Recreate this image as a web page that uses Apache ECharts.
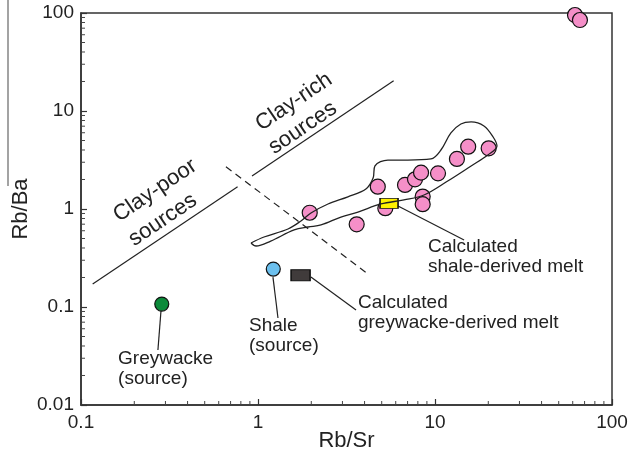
<!DOCTYPE html>
<html>
<head>
<meta charset="utf-8">
<script src="https://cdn.jsdelivr.net/npm/echarts@6/dist/echarts.min.js"></script>
<style>
  html, body { margin: 0; padding: 0; background: #fff; }
  #chart { width: 635px; height: 466px; }
</style>
</head>
<body>
<div id="chart"></div>
<script>
// samples, Rb/Sr vs Rb/Ba
const sampleRbSr = [61.8, 65.9, 20.1, 15.4, 13.3, 10.4, 6.77, 7.71, 8.34, 4.75, 8.52, 8.52, 5.24, 1.96, 3.61];
const sampleRbBa = [95.4, 84.8, 4.16, 4.32, 3.24, 2.31, 1.76, 2.01, 2.35, 1.69, 1.34, 1.12, 1.02, 0.916, 0.698];

// single reference points
const shaleMelt = [5.50, 1.14];
const greywackeMelt = [1.74, 0.211];
const shaleSource = [1.22, 0.244];
const greywackeSource = [0.286, 0.107];

// envelope around the samples (closed)
const envRbSr = [0.913, 1.081, 1.477, 1.749, 1.992, 2.486, 3.22, 4.07, 4.47, 4.58, 5.42, 7.03, 9.49, 10.8, 12.3, 14.0, 16.0, 18.9, 21.3, 22.4, 19.9, 16.0, 11.8, 8.67, 6.68, 4.95, 3.67, 2.94, 2.27, 1.92, 1.60, 1.18, 0.975, 0.913];
const envRbBa = [0.450, 0.518, 0.625, 0.755, 0.910, 1.125, 1.33, 1.60, 2.07, 2.75, 3.16, 3.16, 3.24, 4.00, 5.97, 7.36, 7.73, 7.03, 5.43, 4.39, 3.56, 2.75, 1.93, 1.39, 1.24, 1.125, 0.931, 0.828, 0.687, 0.655, 0.611, 0.471, 0.419, 0.450];

// boundary lines
const clayPoorLine = [[0.1164, 0.172], [0.767, 1.69]];
const clayRichLine = [[0.925, 2.17], [5.84, 20.4]];
const dividerLine = [[0.659, 2.70], [4.26, 0.212]];

// leader lines for the labels
const leaderLines = [
    [[6.18, 1.073], [14.6, 0.483]],
    [[1.99, 0.202], [3.58, 0.0931]],
    [[1.215, 0.202], [1.297, 0.0773]],
    [[0.283, 0.0910], [0.272, 0.0364]]
];

const labelTexts = ['Calculated\nshale-derived melt', 'Calculated\ngreywacke-derived melt', 'Shale\n(source)', 'Greywacke\n(source)'];
const labelAt = [[9.12, 0.521], [3.67, 0.139], [0.890, 0.0809], [0.162, 0.0378]];

const fieldTexts = ['Clay-poor', 'sources', 'Clay-rich', 'sources'];
const fieldAt = [[0.262, 1.54], [0.290, 0.773], [1.596, 12.4], [1.789, 6.71]];

// minor tick values
const xMinorTicks = [0.2, 0.3, 0.4, 0.5, 0.6, 0.7, 0.8, 0.9, 2, 3, 4, 5, 6, 7, 8, 9, 20, 30, 40, 50, 60, 70, 80, 90];
const yMinorTicks = [0.02, 0.03, 0.04, 0.05, 0.06, 0.07, 0.08, 0.09, 0.2, 0.3, 0.4, 0.5, 0.6, 0.7, 0.8, 0.9, 2, 3, 4, 5, 6, 7, 8, 9, 20, 30, 40, 50, 60, 70, 80, 90];

const FONT = "'Liberation Sans', Arial, sans-serif";
const INK = '#222';

const chart = echarts.init(document.getElementById('chart'));

const lineSeries = (data, dashed) => ({
    type: 'line',
    data: data,
    symbol: 'none',
    silent: true,
    z: 3,
    lineStyle: { color: INK, width: 1.2, type: dashed ? [7, 5] : 'solid' }
});

const series = [];

series.push(lineSeries(clayPoorLine));
series.push(lineSeries(clayRichLine));
series.push(lineSeries(dividerLine, true));
leaderLines.forEach(l => series.push(lineSeries(l)));

series.push({
    type: 'scatter',
    data: sampleRbSr.map((x, i) => [x, sampleRbBa[i]]),
    symbol: 'circle',
    symbolSize: 15,
    z: 4,
    itemStyle: { color: '#f58fc8', borderColor: '#111', borderWidth: 1.2, opacity: 1 }
});
series.push({
    type: 'scatter',
    data: [shaleMelt],
    symbol: 'rect',
    symbolSize: [18, 10],
    z: 5,
    itemStyle: { color: '#fff200', borderColor: '#111', borderWidth: 1.2, opacity: 1 }
});
series.push({
    type: 'scatter',
    data: [greywackeMelt],
    symbol: 'rect',
    symbolSize: [19, 11],
    z: 5,
    itemStyle: { color: '#403b3b', borderColor: '#111', borderWidth: 1.2, opacity: 1 }
});
series.push({
    type: 'scatter',
    data: [shaleSource],
    symbolSize: 14,
    z: 5,
    itemStyle: { color: '#6cc0ee', borderColor: '#111', borderWidth: 1.2, opacity: 1 }
});
series.push({
    type: 'scatter',
    data: [greywackeSource],
    symbolSize: 14,
    z: 5,
    itemStyle: { color: '#0c8a3a', borderColor: '#111', borderWidth: 1.2, opacity: 1 }
});

// envelope on top of the symbols
series.push({
    type: 'line',
    data: envRbSr.map((x, i) => [x, envRbBa[i]]),
    symbol: 'none',
    smooth: 0.35,
    silent: true,
    z: 6,
    lineStyle: { color: INK, width: 1.3 }
});

// minor ticks, drawn through the axis scales
const minorTickItem = (horizontal) => (params, api) => {
    const p = api.coord([api.value(0), api.value(1)]);
    const shape = horizontal
        ? { x1: p[0], y1: p[1], x2: p[0] + 4, y2: p[1] }
        : { x1: p[0], y1: p[1], x2: p[0], y2: p[1] - 4 };
    return { type: 'line', shape: shape, style: { stroke: '#444', lineWidth: 1 } };
};
series.push({
    type: 'custom',
    data: xMinorTicks.map(v => [v, 0.01]),
    silent: true,
    z: 7,
    clip: false,
    renderItem: minorTickItem(false)
});
series.push({
    type: 'custom',
    data: yMinorTicks.map(v => [0.1, v]),
    silent: true,
    z: 7,
    clip: false,
    renderItem: minorTickItem(true)
});

const option = {
    animation: false,
    backgroundColor: '#fff',
    textStyle: { fontFamily: FONT },
    grid: {
        left: 81, right: 23, top: 13, bottom: 61,
        containLabel: false, outerBoundsMode: 'none',
        show: true, borderColor: '#333', borderWidth: 1.5, backgroundColor: 'transparent'
    },
    xAxis: {
        type: 'log',
        logBase: 10,
        min: 0.1,
        max: 100,
        name: 'Rb/Sr',
        nameLocation: 'middle',
        nameGap: 25,
        nameMoveOverlap: false,
        nameTextStyle: { fontSize: 22, color: INK, fontFamily: FONT },
        axisLine: { lineStyle: { color: '#333', width: 1.5 } },
        axisTick: { inside: true, length: 6, lineStyle: { color: '#333', width: 1.2 } },
        axisLabel: { fontSize: 19, color: INK, margin: 8, fontFamily: FONT },
        splitLine: { show: false }
    },
    yAxis: {
        type: 'log',
        logBase: 10,
        min: 0.01,
        max: 100,
        name: 'Rb/Ba',
        nameLocation: 'middle',
        nameGap: 49,
        nameMoveOverlap: false,
        nameTextStyle: { fontSize: 22, color: INK, fontFamily: FONT },
        axisLine: { lineStyle: { color: '#333', width: 1.5 } },
        axisTick: { inside: true, length: 6, lineStyle: { color: '#333', width: 1.2 } },
        axisLabel: { fontSize: 19, color: INK, margin: 7, fontFamily: FONT },
        splitLine: { show: false }
    },
    series: series
};

chart.setOption(option);

// text annotations anchored in data space
const graphics = [];
labelTexts.forEach((t, i) => {
    const p = chart.convertToPixel({ gridIndex: 0 }, labelAt[i]);
    graphics.push({
        type: 'text',
        x: p[0], y: p[1],
        silent: true,
        style: { text: t, font: '19px ' + FONT, fill: INK, align: 'left', verticalAlign: 'top', lineHeight: 20 }
    });
});
fieldTexts.forEach((t, i) => {
    const p = chart.convertToPixel({ gridIndex: 0 }, fieldAt[i]);
    graphics.push({
        type: 'text',
        x: p[0], y: p[1],
        rotation: 34 * Math.PI / 180,
        silent: true,
        style: { text: t, font: '22px ' + FONT, fill: INK, align: 'center', verticalAlign: 'middle' }
    });
});
// stray frame edge at the top left of the figure
graphics.push({
    type: 'line',
    silent: true,
    shape: { x1: 8, y1: 0, x2: 8, y2: 186 },
    style: { stroke: '#666', lineWidth: 1.2 }
});

chart.setOption({ graphic: graphics });

window.addEventListener('resize', () => chart.resize());
</script>
</body>
</html>
